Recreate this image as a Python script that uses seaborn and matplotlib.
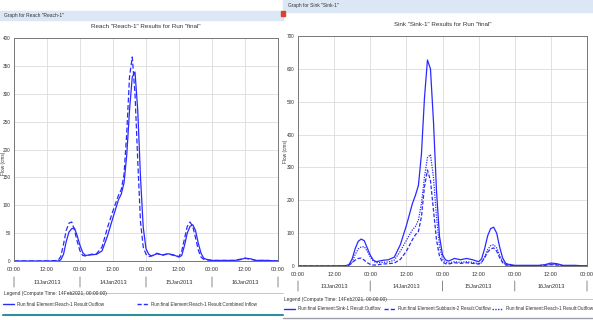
import matplotlib
matplotlib.use('Agg')
import matplotlib.pyplot as plt
import seaborn as sns
from matplotlib.lines import Line2D
from matplotlib.patches import Rectangle
from matplotlib.transforms import offset_copy

# hours after 13Jan2013 00:00
hours = [0, 12, 16, 17, 18, 19, 20, 21, 22, 23, 24, 25, 26, 28, 30, 32, 34, 36, 38,
         39, 40, 41, 42, 43, 44, 45, 46, 47, 48, 49, 50, 52, 54, 56, 58, 60,
         61, 62, 63, 64, 65, 66, 67, 68, 69, 70, 72, 76, 80, 82, 84, 86, 88, 92, 96]

# Reach-1 combined inflow (cms)
reach_inflow = [0, 0, 1, 8, 30, 55, 68, 70, 55, 35, 18, 10, 9, 12, 13, 25, 60, 90, 118,
                128, 155, 230, 330, 366, 300, 180, 70, 25, 12, 8, 9, 14, 10, 13, 10, 8,
                18, 40, 62, 70, 62, 42, 20, 7, 3, 2, 1, 1, 1, 3, 5, 3, 1, 1, 0]

# Reach-1 outflow (cms)
reach_outflow = [0, 0, 0, 2, 12, 35, 52, 58, 59, 45, 28, 15, 10, 11, 12, 18, 45, 78, 110,
                 120, 140, 190, 270, 330, 339, 270, 150, 60, 22, 12, 9, 13, 11, 13, 11, 7,
                 10, 28, 50, 62, 65, 55, 32, 14, 5, 3, 1, 1, 1, 2, 5, 4, 1, 1, 0]

# Subbasin-2 outflow (cms)
sub2_outflow = [0, 0, 0, 3, 10, 18, 23, 24, 18, 10, 5, 3, 3, 6, 7, 9, 20, 45, 80,
                95, 105, 150, 240, 292, 260, 170, 80, 30, 12, 7, 6, 10, 8, 10, 8, 6,
                12, 25, 42, 52, 55, 45, 25, 10, 3, 2, 1, 1, 1, 2, 4, 3, 1, 1, 0]

# Sink-1 outflow (cms)
sink_outflow = [0, 0, 1, 5, 22, 53, 75, 82, 77, 55, 33, 18, 13, 17, 19, 27, 65, 123, 190,
                215, 245, 340, 510, 627, 600, 440, 230, 90, 34, 19, 15, 23, 19, 23, 19, 13,
                22, 53, 92, 114, 118, 100, 57, 24, 8, 5, 2, 2, 2, 4, 9, 7, 2, 2, 0]

hour_ticks = list(range(0, 97, 12))
hour_labels = ['00:00', '12:00'] * 4 + ['00:00']
day_labels = ['13Jan2013', '14Jan2013', '15Jan2013', '16Jan2013']

sns.set_style("white")
plt.rcParams['font.family'] = ['Liberation Sans Narrow', 'Liberation Sans', 'DejaVu Sans']

W, H = 593, 320
BLUE = '#2a2aff'
TXT = '#333333'
fig = plt.figure(figsize=(W / 100, H / 100), dpi=100)


def fx(x):
    return x / W


def fy(y):
    return 1 - y / H


def box(x0, y0, x1, y1, color):
    fig.patches.append(Rectangle((fx(x0), fy(y1)), (x1 - x0) / W, (y1 - y0) / H,
                                 transform=fig.transFigure, color=color, zorder=0))


def hline(x0, x1, y, color, lw=0.6, **kw):
    fig.add_artist(Line2D([fx(x0), fx(x1)], [fy(y), fy(y)], color=color, lw=lw, **kw))


# window chrome
box(0, 11, 283, 20, '#dbe7f4')
box(283, 0, 593, 12, '#dbe7f4')
box(281, 11, 285, 16, '#d9442c')
fig.text(fx(4), fy(15.5), 'Graph for Reach "Reach-1"', fontsize=3.5, color=TXT, va='center')
fig.text(fx(288), fy(6), 'Graph for Sink "Sink-1"', fontsize=3.5, color=TXT, va='center')
hline(3, 283, 315, '#2f8f9d', lw=1.5)
hline(283, 593, 318, '#9aa0a6', lw=1.0)


def panel(rect, ymax, ystep, title, series, cap_px, label_xy):
    ax = fig.add_axes(rect)
    for vals, style in series:
        sns.lineplot(x=hours, y=vals, ax=ax, color=BLUE, linewidth=0.9, **style)
    ax.set_xlim(0, 96)
    ax.set_ylim(0, ymax)
    ax.set_xticks(hour_ticks)
    ax.set_xticklabels(hour_labels)
    ax.set_yticks(range(0, ymax + 1, ystep))
    ax.tick_params(axis='x', labelsize=4, colors=TXT, length=2, width=0.5, pad=2)
    ax.tick_params(axis='y', labelsize=3.4, colors=TXT, length=1.5, width=0.5, pad=0.8)
    ax.grid(True, color='#dcdcdc', lw=0.6)
    for s in ax.spines.values():
        s.set_color('#777777')
        s.set_linewidth(0.7)
    ax.set_xlabel('')
    ax.set_ylabel('Flow (cms)', fontsize=3.4, color=TXT)
    ax.yaxis.set_label_coords(*label_xy)
    ax.set_title(title, fontsize=4.5, color=TXT, pad=7)
    tr = ax.get_xaxis_transform()
    t_day = offset_copy(tr, fig=fig, y=-cap_px * 0.72, units='points')
    for i, lab in enumerate(day_labels):
        ax.text(12 + 24 * i, 0, lab, transform=t_day, fontsize=4, color=TXT,
                ha='center', va='center')
    t_top = offset_copy(tr, fig=fig, y=-(cap_px - 5) * 0.72, units='points')
    t_bot = offset_copy(tr, fig=fig, y=-(cap_px + 5) * 0.72, units='points')
    for d in range(0, 97, 24):
        ax.annotate('', xy=(d, 0), xycoords=t_top, xytext=(d, 0), textcoords=t_bot,
                    arrowprops=dict(arrowstyle='-', color='#888888', lw=0.7,
                                    shrinkA=0, shrinkB=0),
                    annotation_clip=False)
    if ax.get_legend():
        ax.get_legend().remove()
    return ax


panel([fx(14), fy(261), (278 - 14) / W, (261 - 38) / H], 400, 50,
      'Reach "Reach-1" Results for Run "final"',
      [(reach_outflow, {}), (reach_inflow, {'dashes': (4, 2)})], 21, (-0.031, 0.44))

panel([fx(298), fy(266), (587 - 298) / W, (266 - 36) / H], 700, 100,
      'Sink "Sink-1" Results for Run "final"',
      [(sink_outflow, {}), (sub2_outflow, {'dashes': (3, 1.5)}),
       (reach_outflow, {'dashes': (1, 1)})], 20, (-0.035, 0.5))

# legends
fig.text(fx(4), fy(293), 'Legend (Compute Time: 14Feb2021, 00:00:00)', fontsize=3.5,
         color=TXT, va='center')
hline(68, 283, 293, '#bbbbbb')
fig.text(fx(284), fy(299), 'Legend (Compute Time: 14Feb2021, 00:00:00)', fontsize=3.5,
         color=TXT, va='center')
hline(357, 593, 299, '#bbbbbb')

legend_items = [
    (3, 304, {}, 'Run:final Element:Reach-1 Result:Outflow'),
    (137, 304, {'dashes': (3, 1.5)}, 'Run:final Element:Reach-1 Result:Combined Inflow'),
    (284, 309, {}, 'Run:final Element:Sink-1 Result:Outflow'),
    (384, 309, {'dashes': (3, 1.5)}, 'Run:final Element:Subbasin-2 Result:Outflow'),
    (492, 309, {'dashes': (1, 1)}, 'Run:final Element:Reach-1 Result:Outflow'),
]
for x0, y0, style, lab in legend_items:
    hline(x0, x0 + 11, y0, BLUE, lw=1.0, **style)
    fig.text(fx(x0 + 14), fy(y0), lab, fontsize=3.3, color=TXT, va='center')

fig.savefig('out.png', dpi=100)
